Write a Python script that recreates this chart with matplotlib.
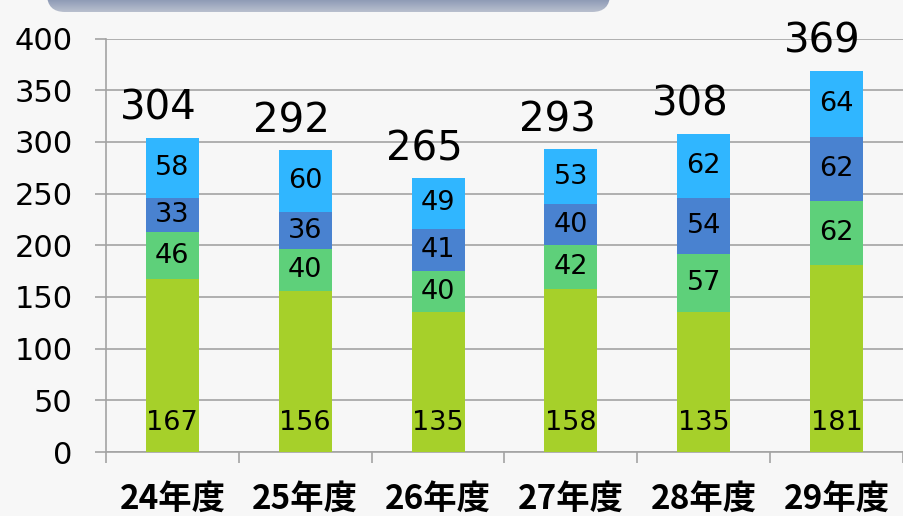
import matplotlib
matplotlib.use("Agg")
import matplotlib.pyplot as plt
import numpy as np
from matplotlib.patches import FancyBboxPatch
from matplotlib.colors import LinearSegmentedColormap

categories = ["24年度", "25年度", "26年度", "27年度", "28年度", "29年度"]
s1 = [167, 156, 135, 158, 135, 181]   # bottom (yellow-green)
s2 = [46, 40, 40, 42, 57, 62]         # green
s3 = [33, 36, 41, 40, 54, 62]         # dark blue
s4 = [58, 60, 49, 53, 62, 64]         # light blue (top)
totals = [304, 292, 265, 293, 308, 369]
yticks = [0, 50, 100, 150, 200, 250, 300, 350, 400]

colors = ["#a6d02a", "#5ed07a", "#4982d0", "#30b6ff"]
bg = "#f7f7f7"
grid_c = "#a3a3a3"

W, H = 904, 516
fig = plt.figure(figsize=(W / 100, H / 100), dpi=100, facecolor=bg)
ax = fig.add_axes([106 / W, (H - 452) / H, (903 - 106) / W, (452 - 38.5) / H], facecolor=bg)

x = np.arange(len(categories))
bottoms = np.zeros(len(categories))
series = [s1, s2, s3, s4]
for i, (vals, c) in enumerate(zip(series, colors)):
    ax.bar(x, vals, width=0.4, bottom=bottoms, color=c, zorder=3)
    for xi, v, b in zip(x, vals, bottoms):
        ypos = 29 / 1.034 if i == 0 else b + v / 2
        ax.text(xi, ypos, str(v), ha="center", va="center", fontsize=19.5,
                family="DejaVu Sans", color="black", zorder=4)
    bottoms = bottoms + np.array(vals)

for xi, t in zip(x, totals):
    ax.annotate(str(t), (xi, t), xytext=(-10, 13), textcoords="offset points",
                ha="center", va="baseline", fontsize=29, family="DejaVu Sans",
                color="black", zorder=5, annotation_clip=False)

ax.set_xlim(-0.5, len(categories) - 0.5)
ax.set_ylim(0, 400)
ax.set_yticks(yticks)
ax.set_yticklabels([str(v) for v in yticks], fontsize=22, family="DejaVu Sans")
ax.set_xticks(np.arange(len(categories) + 1) - 0.5, minor=False)
ax.set_xticklabels([])
ax.set_xticks(x, minor=True)
ax.set_xticklabels(categories, minor=True, fontsize=24, fontweight="bold",
                   family=["Noto Sans CJK JP", "DejaVu Sans"])
ax.tick_params(axis="x", which="minor", length=0, pad=22)
ax.tick_params(axis="x", which="major", length=8, width=1.2, color=grid_c, direction="out")
ax.tick_params(axis="y", length=8, width=1.2, color=grid_c, pad=16)
ax.yaxis.grid(True, color=grid_c, linewidth=1.2, zorder=0)
ax.set_axisbelow(True)
for s in ["top", "right"]:
    ax.spines[s].set_visible(False)
for s in ["left", "bottom"]:
    ax.spines[s].set_color(grid_c)
    ax.spines[s].set_linewidth(1.2)

# Decorative title box (cut off at top)
box_ax = fig.add_axes([0, 0, 1, 1], facecolor="none")
box_ax.set_xlim(0, W)
box_ax.set_ylim(H, 0)
box_ax.axis("off")
patch = FancyBboxPatch((47, -40), 563, 52, boxstyle="round,pad=0,rounding_size=18",
                       facecolor="none", edgecolor="none")
box_ax.add_patch(patch)
grad = np.linspace(0, 1, 64).reshape(-1, 1)
cmap = LinearSegmentedColormap.from_list("g", ["#3f5585", "#5b6e98", "#b8bfce"])
im = box_ax.imshow(grad, extent=[47, 610, 12, -40], cmap=cmap, aspect="auto", zorder=1)
im.set_clip_path(patch)

fig.savefig("out.png", dpi=100, facecolor=bg)
